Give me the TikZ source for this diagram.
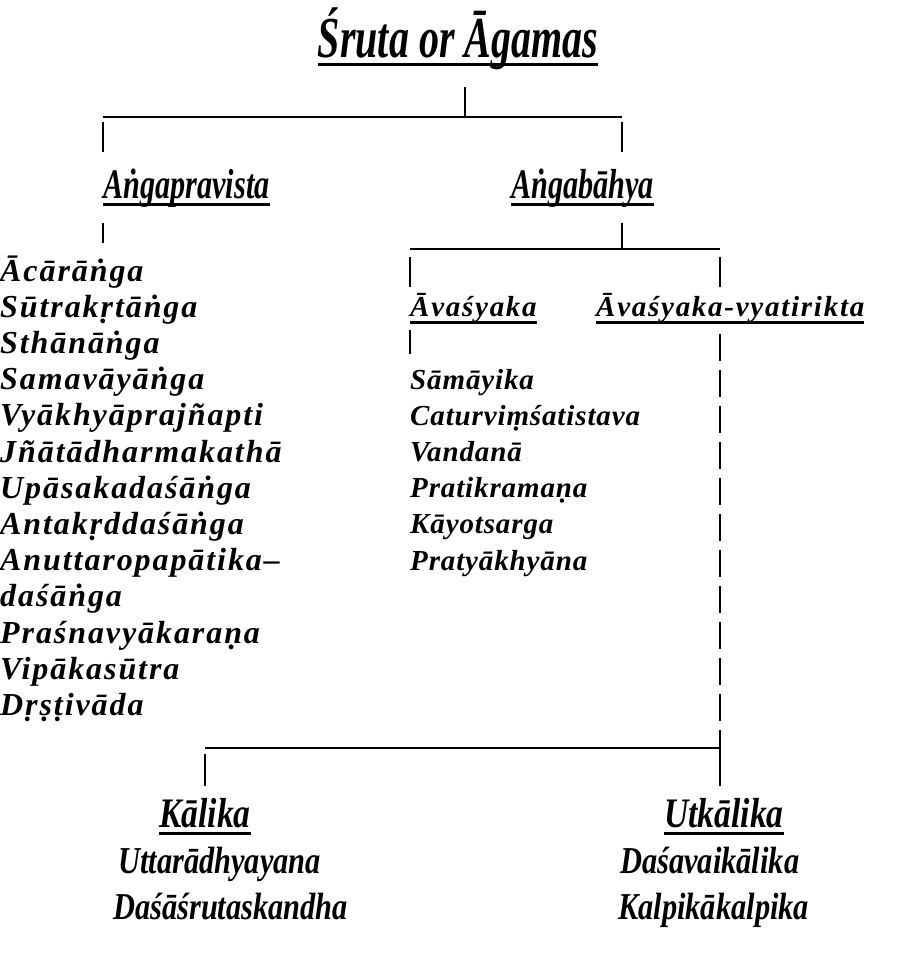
\documentclass[tikz,border=0pt]{standalone}
\usepackage{fontspec}
\setmainfont{Liberation Serif}
\newfontfamily\spacedfont[LetterSpace=6]{Liberation Serif}
\newfontfamily\tightfont[LetterSpace=3]{Liberation Serif}
\newfontfamily\narrowfont[FakeStretch=0.72]{Liberation Serif}
\newfontfamily\titlefont[FakeStretch=0.69]{Liberation Serif}
\newfontfamily\bottomfont[FakeStretch=0.8]{Liberation Serif}
\newcommand\ulined[1]{\setbox0\hbox{#1}\rlap{\vrule height -5pt depth 8pt width \wd0}\box0}

\begin{document}
\begin{tikzpicture}[x=1pt,y=-1pt]
    \tikzstyle{item} = [anchor=base west, inner sep=0pt, font=\spacedfont\bfseries\itshape\fontsize{32}{34}\selectfont];
    \tikzstyle{mitem} = [anchor=base west, inner sep=0pt, font=\tightfont\bfseries\itshape\fontsize{29}{30}\selectfont];
    \tikzstyle{head} = [anchor=base west, inner sep=0pt, font=\narrowfont\bfseries\itshape\fontsize{42}{44}\selectfont];
    \tikzstyle{sub} = [anchor=base west, inner sep=0pt, font=\bottomfont\bfseries\itshape\fontsize{38}{40}\selectfont];
    \tikzstyle{line} = [draw, line width=1.1pt];
    \useasboundingbox (0,0) rectangle (909,955);

    % headings
    \node[head, anchor=base, font=\titlefont\bfseries\itshape\fontsize{58}{60}\selectfont] (sruta) at (458,58) {\ulined{Śruta or Āgamas}};
    \node[head] (pravista) at (103,198) {\ulined{Aṅgapravista}};
    \node[head] (bahya) at (511,198) {\ulined{Aṅgabāhya}};
    \node[mitem, font=\spacedfont\bfseries\itshape\fontsize{29}{30}\selectfont] (avasyaka) at (410,316) {\ulined{Āvaśyaka}};
    \node[mitem, font=\spacedfont\bfseries\itshape\fontsize{29}{30}\selectfont] (vyatirikta) at (596,316) {\ulined{Āvaśyaka-vyatirikta}};
    \node[sub, anchor=base, font=\bottomfont\bfseries\itshape\fontsize{42}{44}\selectfont] (kalika) at (205,827) {\ulined{Kālika}};
    \node[sub, anchor=base, font=\bottomfont\bfseries\itshape\fontsize{42}{44}\selectfont] (utkalika) at (724,827) {\ulined{Utkālika}};

    % lists
    \foreach \t [count=\i] in {Ācārāṅga, Sūtrakṛtāṅga, Sthānāṅga, Samavāyāṅga,
        Vyākhyāprajñapti, Jñātādharmakathā, Upāsakadaśāṅga, Antakṛddaśāṅga,
        Anuttaropapātika–, daśāṅga, Praśnavyākaraṇa, Vipākasūtra, Dṛṣṭivāda}
        \node[item] (ap\i) at (0,{281+36.2*(\i-1)}) {\t};
    \foreach \t [count=\i] in {Sāmāyika, Caturviṃśatistava, Vandanā,
        Pratikramaṇa, Kāyotsarga, Pratyākhyāna}
        \node[mitem] (av\i) at (410,{389+36.2*(\i-1)}) {\t};
    \node[sub] (kl1) at (118,873) {Uttarādhyayana};
    \node[sub] (kl2) at (113,919) {Daśāśrutaskandha};
    \node[sub] (uk1) at (620,873) {Daśavaikālika};
    \node[sub] (uk2) at (618,919) {Kalpikākalpika};

    % junctions
    \coordinate (j1) at (465,117);
    \coordinate (j1l) at (103,117);
    \coordinate (j1r) at (622,117);
    \coordinate (j2) at (622,249);
    \coordinate (j2l) at (410,249);
    \coordinate (j2r) at (720,249);
    \coordinate (j3l) at (205,748);
    \coordinate (j3r) at (720,748);

    \tikzstyle{every path}=[line]
    \path (j1) ++(0,-30) -- (j1);
    \path (j1l) -- (j1r);
    \path (j1l) ++(0,5) -- ++(0,30);
    \path (j1r) ++(0,5) -- ++(0,30);
    \path (pravista.south -| j1l) ++(0,16) -- ++(0,20);
    \path (bahya.south -| j2) ++(0,16) -- (j2);
    \path (j2l) -- (j2r);
    \path (j2l) ++(0,8) -- ++(0,30);
    \path (j2r) ++(0,8) -- ++(0,30);
    \path (avasyaka.south -| j2l) ++(0,6) -- ++(0,24);
    \path[dash pattern=on 27pt off 9pt] (vyatirikta.south -| j2r) ++(0,10) -- ([yshift=-6pt]j3r);
    \path (j3l) -- (j3r);
    \path (j3l) ++(0,6) -- ++(0,32);
    \path (j3r) ++(0,6) -- ++(0,32);
\end{tikzpicture}
\end{document}
